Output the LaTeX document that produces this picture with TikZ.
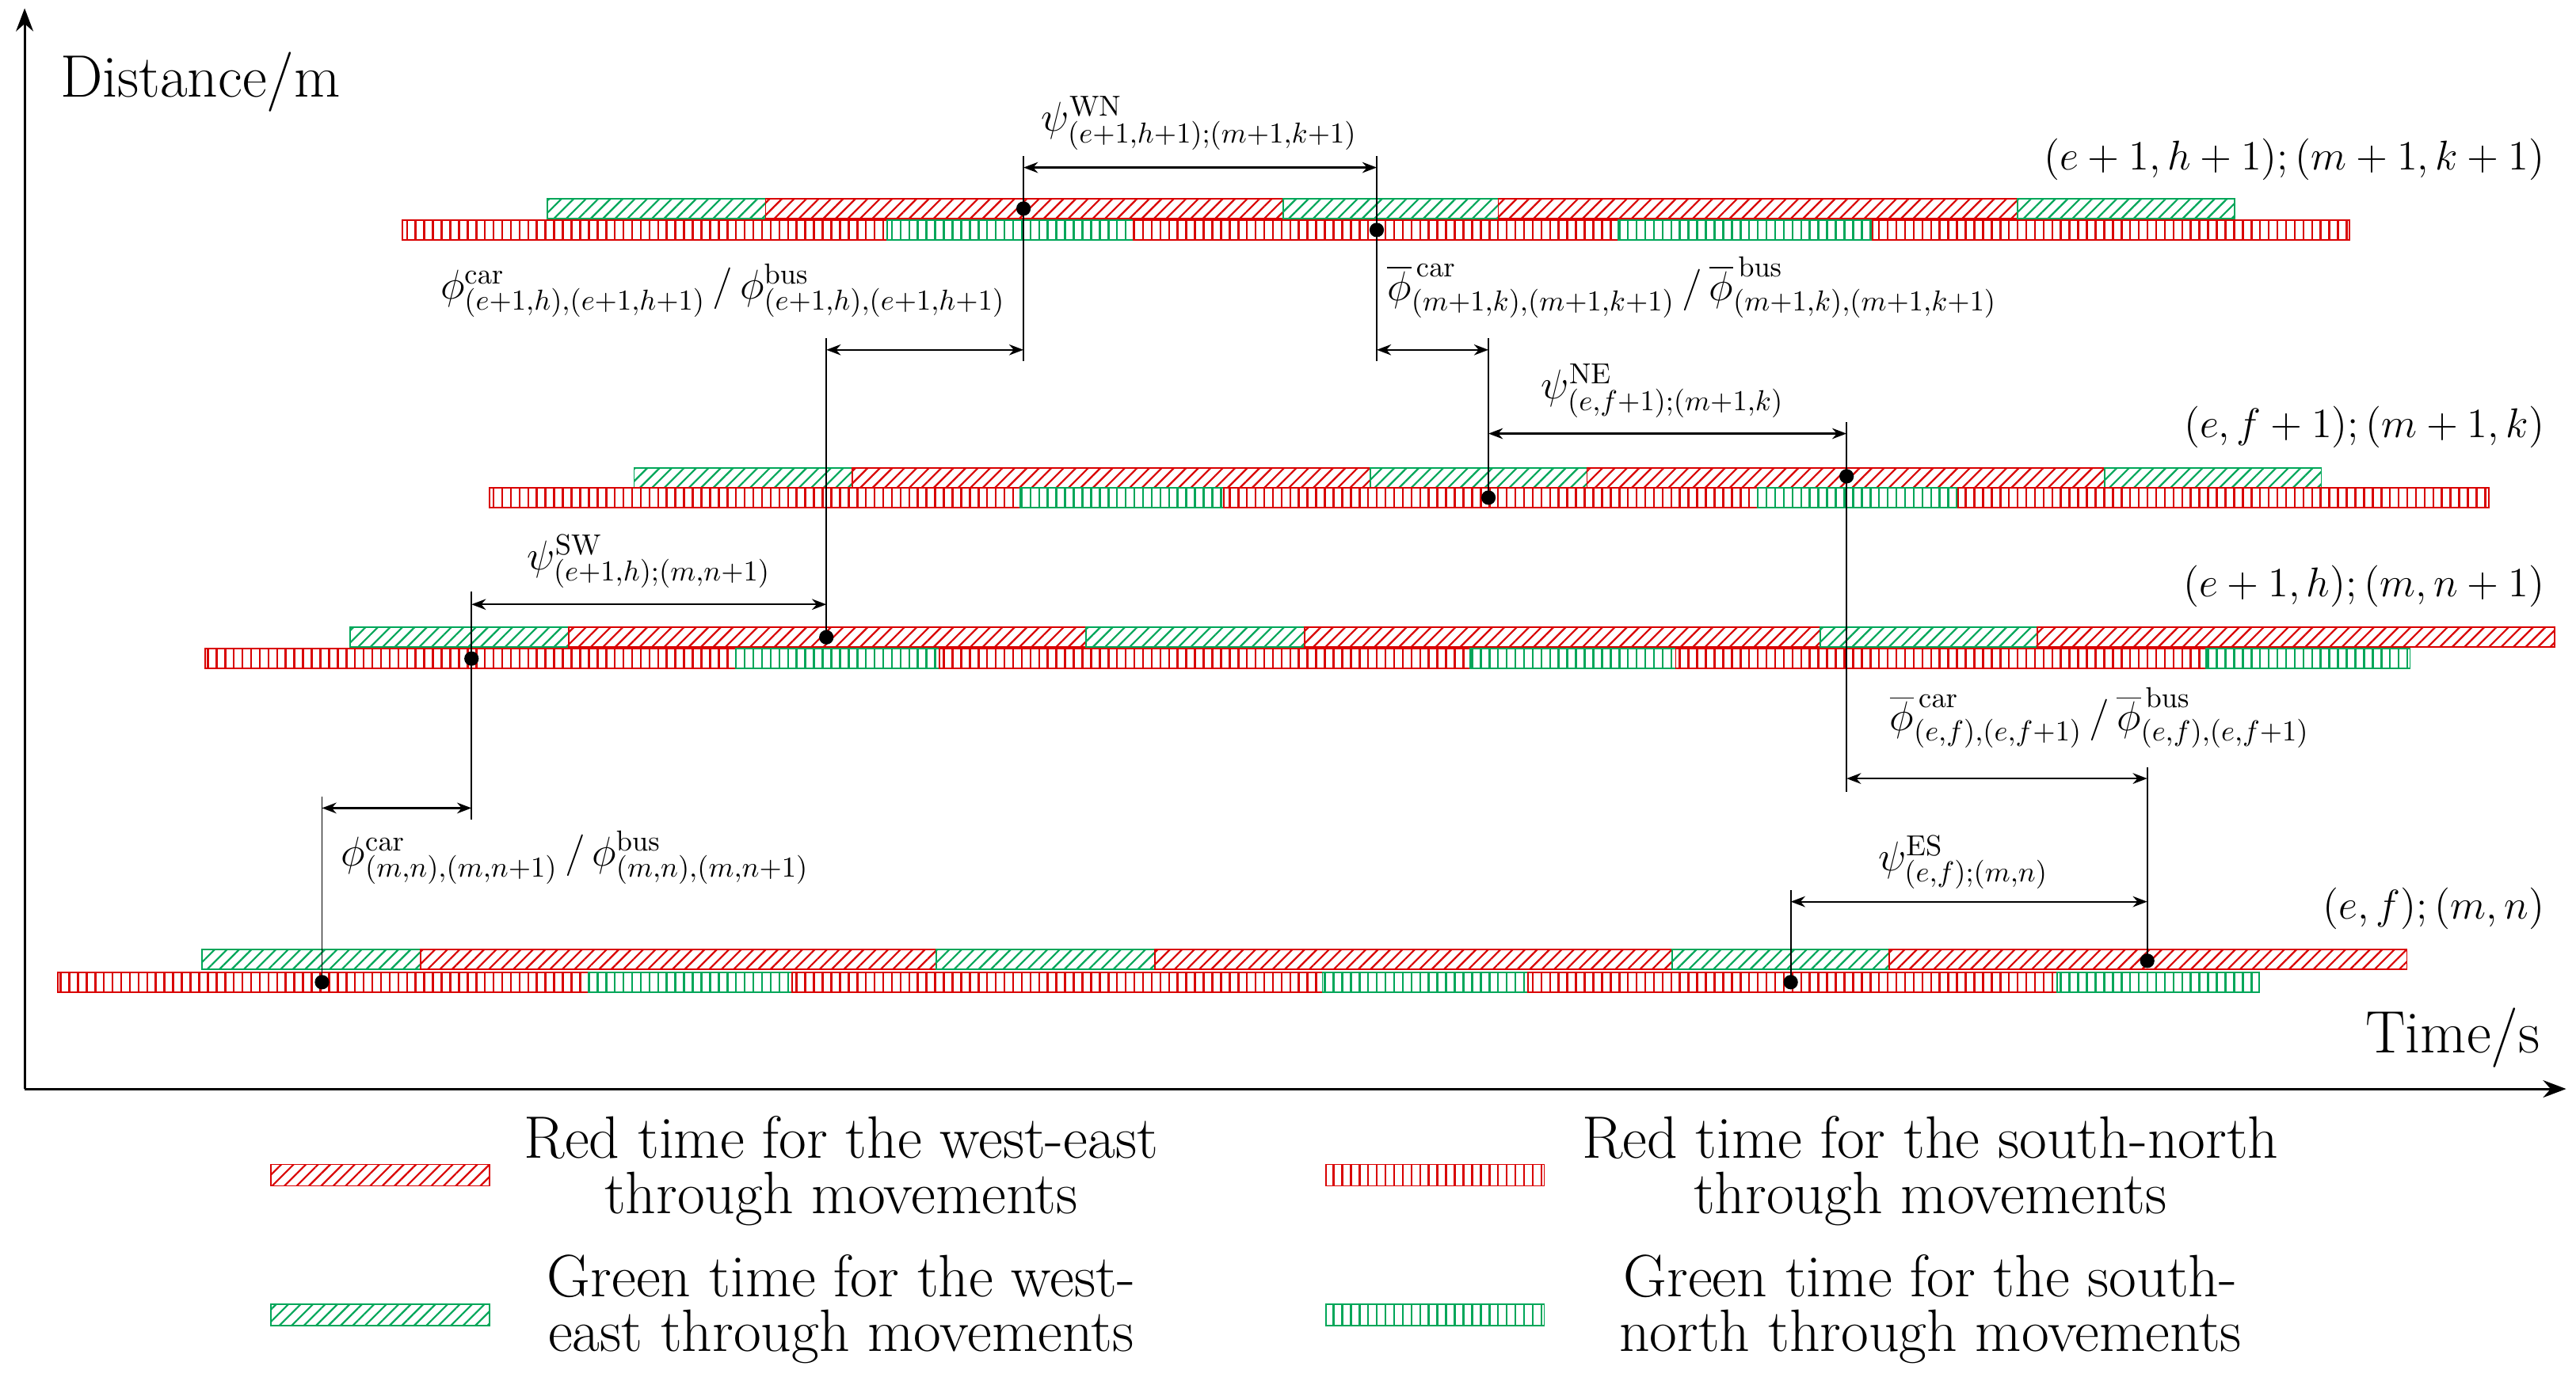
\documentclass[tikz,border=0pt]{standalone}
\usetikzlibrary{patterns.meta,arrows.meta}
\begin{document}
\begin{tikzpicture}[x=0.02cm,y=-0.02cm,
  dg/.style={pattern={Lines[angle=45,distance=3pt,line width=0.6pt]}},
  vt/.style={pattern={Lines[angle=90,distance=3pt,line width=0.7pt]}},
  rd/.style={draw=red!85!black,pattern color=red!85!black,line width=0.5pt},
  gn/.style={draw=teal!70!green,pattern color=teal!70!green,line width=0.5pt},
  dim/.style={{Stealth[length=5pt]}-{Stealth[length=5pt]},line width=0.6pt},
  vl/.style={line width=0.5pt},
  dot/.style={circle,fill,inner sep=0pt,minimum size=5pt},
  lb/.style={font=\Large},
  lg/.style={font=\huge,align=center}]
\useasboundingbox (0,0) rectangle (1568,843);
\newcommand\hseg[5]{\path[#4,#5] (#1,#3) rectangle (#2,#3+12);}
% row 1
\foreach \a/\b/\c in {333/466/gn,466/781/rd,781/912/gn,912/1228/rd,1228/1360/gn}{\hseg{\a}{\b}{121}{\c}{dg}}
\foreach \a/\b/\c in {245/540/rd,540/690/gn,690/985/rd,985/1140/gn,1140/1430/rd}{\hseg{\a}{\b}{134}{\c}{vt}}
% row 2
\foreach \a/\b/\c in {386/519/gn,519/834/rd,834/966/gn,966/1281/rd,1281/1413/gn}{\hseg{\a}{\b}{285}{\c}{dg}}
\foreach \a/\b/\c in {298/621/rd,621/745/gn,745/1070/rd,1070/1192/gn,1192/1515/rd}{\hseg{\a}{\b}{297}{\c}{vt}}
% row 3
\foreach \a/\b/\c in {213/346/gn,346/661/rd,661/794/gn,794/1108/rd,1108/1240/gn,1240/1555/rd}{\hseg{\a}{\b}{382}{\c}{dg}}
\foreach \a/\b/\c in {125/448/rd,448/572/gn,572/895/rd,895/1020/gn,1020/1343/rd,1343/1467/gn}{\hseg{\a}{\b}{395}{\c}{vt}}
% row 4
\foreach \a/\b/\c in {123/256/gn,256/570/rd,570/703/gn,703/1018/rd,1018/1150/gn,1150/1465/rd}{\hseg{\a}{\b}{578}{\c}{dg}}
\foreach \a/\b/\c in {35/358/rd,358/482/gn,482/805/rd,805/930/gn,930/1252/rd,1252/1375/gn}{\hseg{\a}{\b}{592}{\c}{vt}}
% axes
\coordinate (O) at (15,663); \coordinate (Y) at (15,5); \coordinate (X) at (1562,663);
\draw[line width=0.8pt,-{Stealth[length=8pt]}] (O) -- (Y);
\draw[line width=0.8pt,-{Stealth[length=8pt]}] (O) -- (X);
\node[font=\huge] (dl) at (122,50) {Distance/m};
\node[font=\huge] (tl) at (1493,632) {Time/s};
% dots
\node[dot] (d1) at (623,127) {};
\node[dot] (d2) at (838,140) {};
\node[dot] (d3) at (906,303) {};
\node[dot] (d4) at (1124,290) {};
\node[dot] (d5) at (1307,585) {};
\node[dot] (d6) at (1090,598) {};
\node[dot] (d7) at (503,388) {};
\node[dot] (d8) at (287,401) {};
\node[dot] (d9) at (196,598) {};
% verticals
\draw[vl] (623,95) -- (d1.center) -- (623,220);
\draw[vl] (838,95) -- (d2.center) -- (838,220);
\draw[vl] (906,206) -- (d3.center);
\draw[vl] (1124,257) -- (d4.center) -- (1124,482);
\draw[vl] (1307,467) -- (d5.center);
\draw[vl] (1090,542) -- (d6.center);
\draw[vl] (503,206) -- (d7.center);
\draw[vl] (287,360) -- (d8.center) -- (287,499);
\draw[vl] (196,485) -- (d9.center);
% dimension arrows
\coordinate (a1) at (623,102); \coordinate (a2) at (838,102); \draw[dim] (a1) -- (a2);
\coordinate (b1) at (503,213); \coordinate (b2) at (623,213); \draw[dim] (b1) -- (b2);
\coordinate (c1) at (838,213); \coordinate (c2) at (906,213); \draw[dim] (c1) -- (c2);
\coordinate (e1) at (906,264); \coordinate (e2) at (1124,264); \draw[dim] (e1) -- (e2);
\coordinate (f1) at (287,368); \coordinate (f2) at (503,368); \draw[dim] (f1) -- (f2);
\coordinate (g1) at (1124,474); \coordinate (g2) at (1307,474); \draw[dim] (g1) -- (g2);
\coordinate (h1) at (196,492); \coordinate (h2) at (287,492); \draw[dim] (h1) -- (h2);
\coordinate (i1) at (1090,549); \coordinate (i2) at (1307,549); \draw[dim] (i1) -- (i2);
% labels
\node[lb,anchor=east] (r1) at (1555,97) {$\LARGE(e+1,h+1);(m+1,k+1)$};
\node[lb,anchor=east] (r2) at (1555,260) {$\LARGE(e,f+1);(m+1,k)$};
\node[lb,anchor=east] (r3) at (1555,357) {$\LARGE(e+1,h);(m,n+1)$};
\node[lb,anchor=east] (r4) at (1555,553) {$\LARGE(e,f);(m,n)$};
\node[lb] (p1) at (730,75) {$\psi^{\mathrm{WN}}_{(e+1,h+1);(m+1,k+1)}$};
\node[lb] (p2) at (1012,238) {$\psi^{\mathrm{NE}}_{(e,f+1);(m+1,k)}$};
\node[lb] (p3) at (395,342) {$\psi^{\mathrm{SW}}_{(e+1,h);(m,n+1)}$};
\node[lb] (p4) at (1195,525) {$\psi^{\mathrm{ES}}_{(e,f);(m,n)}$};
\node[lb] (q1) at (440,177) {$\phi^{\mathrm{car}}_{(e+1,h),(e+1,h+1)}\,/\,\phi^{\mathrm{bus}}_{(e+1,h),(e+1,h+1)}$};
\node[lb] (q2) at (1030,175) {$\overline{\phi}^{\,\mathrm{car}}_{(m+1,k),(m+1,k+1)}\,/\,\overline{\phi}^{\,\mathrm{bus}}_{(m+1,k),(m+1,k+1)}$};
\node[lb] (q3) at (1278,437) {$\overline{\phi}^{\,\mathrm{car}}_{(e,f),(e,f+1)}\,/\,\overline{\phi}^{\,\mathrm{bus}}_{(e,f),(e,f+1)}$};
\node[lb] (q4) at (350,522) {$\phi^{\mathrm{car}}_{(m,n),(m,n+1)}\,/\,\phi^{\mathrm{bus}}_{(m,n),(m,n+1)}$};
% legend
\path[rd,dg] (165,709) rectangle (298,722);
\path[rd,vt] (807,709) rectangle (940,722);
\path[gn,dg] (165,794) rectangle (298,807);
\path[gn,vt] (807,794) rectangle (940,807);
\node[lg] (l1) at (512,713) {Red time for the west-east\\[-6pt]through movements};
\node[lg] (l2) at (1175,713) {Red time for the south-north\\[-6pt]through movements};
\node[lg] (l3) at (512,797) {Green time for the west-\\[-6pt]east through movements};
\node[lg] (l4) at (1175,797) {Green time for the south-\\[-6pt]north through movements};
\end{tikzpicture}
\end{document}
